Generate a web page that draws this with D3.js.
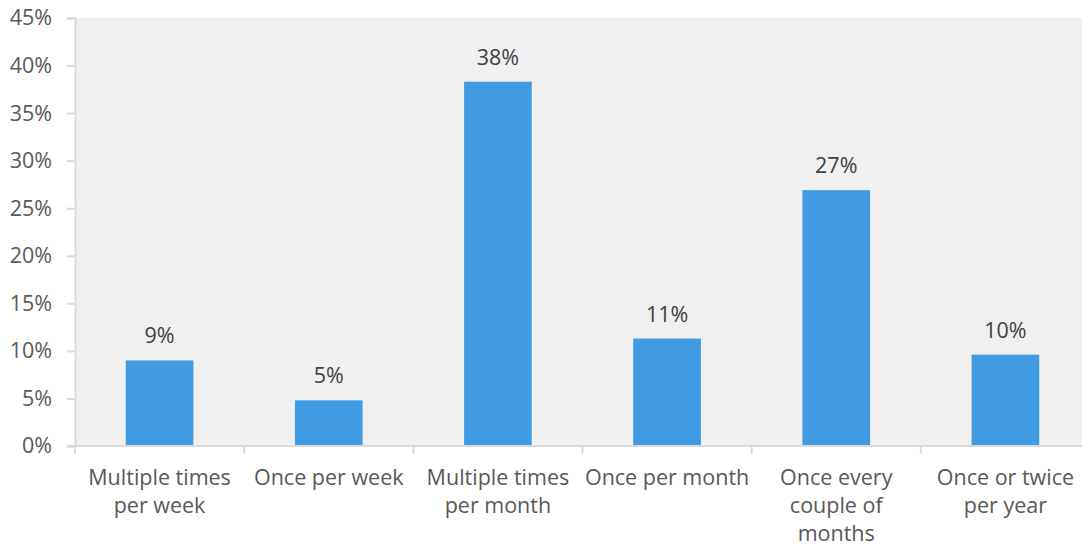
<!DOCTYPE html>
<html>
<head>
<meta charset="utf-8">
<script src="https://cdn.jsdelivr.net/npm/d3@7"></script>
<style>
  html, body { margin: 0; padding: 0; background: #fff; }
  svg { display: block; }
  text { font-family: "Open Sans", "Noto Sans", sans-serif; }
</style>
</head>
<body>
<svg id="chart" width="1082" height="545"></svg>
<script>
// Frequency categories (multi-line labels split on "|")
const categories = [
  "Multiple times|per week",
  "Once per week",
  "Multiple times|per month",
  "Once per month",
  "Once every|couple of|months",
  "Once or twice|per year"
];
// Share of respondents (percent)
const shares = [9.0, 4.8, 38.3, 11.3, 26.9, 9.6];
// Y axis ticks (percent)
const yTicks = [0, 5, 10, 15, 20, 25, 30, 35, 40, 45];

const W = 1082, H = 545;
const margin = { top: 18, bottom: 99, left: 75 };
const plotRight = 1090; // last category band runs slightly past the visible edge
const fontSize = "21.5px";
const svg = d3.select("#chart");

const x = d3.scaleBand()
  .domain(categories)
  .range([margin.left, plotRight])
  .padding(0);

const y = d3.scaleLinear()
  .domain([0, 45])
  .range([H - margin.bottom, margin.top]);

// plot background
svg.append("rect")
  .attr("x", margin.left)
  .attr("y", margin.top)
  .attr("width", W - margin.left)
  .attr("height", y(0) - margin.top)
  .attr("fill", "#f0f0f0");

const axisColor = "#d9d9d9";

// Y axis
const yAxis = svg.append("g")
  .attr("transform", `translate(${margin.left},0)`)
  .call(d3.axisLeft(y).tickValues(yTicks).tickFormat(d => d + "%").tickSize(8).tickPadding(15));
yAxis.select(".domain").attr("stroke", axisColor).attr("stroke-width", 2);
yAxis.selectAll(".tick line").attr("stroke", axisColor).attr("stroke-width", 2);
yAxis.selectAll(".tick text")
  .attr("fill", "#595959")
  .style("font-size", fontSize)
  .style("font-family", "'Open Sans', sans-serif");

// bars
const barFrac = 0.4;
svg.append("g").selectAll("rect")
  .data(categories)
  .join("rect")
  .attr("x", (d) => x(d) + x.bandwidth() * (1 - barFrac) / 2)
  .attr("width", x.bandwidth() * barFrac)
  .attr("y", (d, i) => y(shares[i]))
  .attr("height", (d, i) => y(0) - y(shares[i]))
  .attr("fill", "#419be3");

// X axis (category boundaries as ticks)
const xg = svg.append("g");
xg.append("line")
  .attr("x1", margin.left - 8).attr("x2", W)
  .attr("y1", y(0)).attr("y2", y(0))
  .attr("stroke", axisColor).attr("stroke-width", 2);
const bounds = categories.map(c => x(c));
xg.selectAll(".btick")
  .data(bounds)
  .join("line")
  .attr("class", "btick")
  .attr("x1", d => d).attr("x2", d => d)
  .attr("y1", y(0)).attr("y2", y(0) + 8)
  .attr("stroke", axisColor).attr("stroke-width", 2);

// category labels
const catLabels = xg.selectAll(".cat")
  .data(categories)
  .join("text")
  .attr("class", "cat")
  .attr("text-anchor", "middle")
  .attr("fill", "#595959")
  .style("font-size", fontSize)
  .attr("x", d => x(d) + x.bandwidth() / 2)
  .attr("y", y(0) + 39);
catLabels.each(function(d) {
  const t = d3.select(this);
  d.split("|").forEach((line, k) => {
    t.append("tspan")
      .attr("x", x(d) + x.bandwidth() / 2)
      .attr("dy", k === 0 ? 0 : 28)
      .text(line);
  });
});

// value labels
const fmt = v => Math.round(v) + "%";
svg.append("g").selectAll("text")
  .data(categories)
  .join("text")
  .attr("text-anchor", "middle")
  .attr("fill", "#404040")
  .style("font-size", fontSize)
  .attr("x", d => x(d) + x.bandwidth() / 2)
  .attr("y", (d, i) => y(shares[i]) - 17)
  .text((d, i) => fmt(shares[i]));
</script>
</body>
</html>
